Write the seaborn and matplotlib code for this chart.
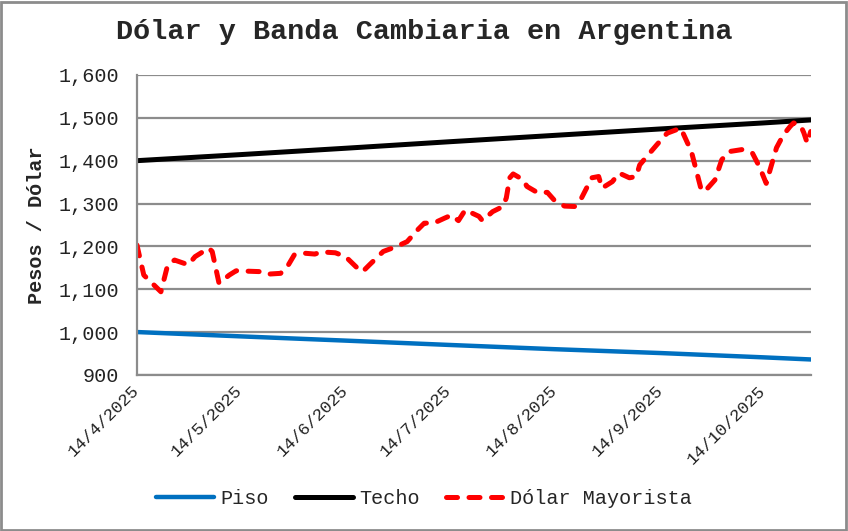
import pandas as pd
import matplotlib.pyplot as plt
import seaborn as sns
from matplotlib.patches import Rectangle
from matplotlib.ticker import FuncFormatter

# Banda cambiaria (piso / techo)
banda_fechas = ["2025-04-14", "2025-05-14", "2025-06-14", "2025-07-14",
                "2025-08-14", "2025-09-14", "2025-10-14", "2025-10-28"]
techo = [1400, 1414, 1429, 1444, 1459, 1474, 1488, 1495]
piso = [1000, 990, 980, 970, 960, 951, 941, 936]

# Dolar mayorista
dolar_fechas = [
    "2025-04-14", "2025-04-16", "2025-04-21", "2025-04-23", "2025-04-25", "2025-04-29",
    "2025-05-01", "2025-05-05", "2025-05-06", "2025-05-08", "2025-05-11", "2025-05-13",
    "2025-05-20", "2025-05-22", "2025-05-26", "2025-05-28", "2025-05-30", "2025-06-02",
    "2025-06-05", "2025-06-07", "2025-06-11", "2025-06-14", "2025-06-18", "2025-06-19",
    "2025-06-21", "2025-06-25", "2025-06-29", "2025-07-02", "2025-07-05", "2025-07-07",
    "2025-07-10", "2025-07-13", "2025-07-15", "2025-07-17", "2025-07-19", "2025-07-23",
    "2025-07-24", "2025-07-27", "2025-07-30", "2025-07-31", "2025-08-01", "2025-08-02",
    "2025-08-05", "2025-08-06", "2025-08-09", "2025-08-12", "2025-08-14", "2025-08-17",
    "2025-08-20", "2025-08-22", "2025-08-25", "2025-08-27", "2025-08-28", "2025-08-31",
    "2025-09-02", "2025-09-05", "2025-09-07", "2025-09-08", "2025-09-10", "2025-09-13",
    "2025-09-16", "2025-09-18", "2025-09-20", "2025-09-22", "2025-09-23", "2025-09-25",
    "2025-09-26", "2025-09-27", "2025-09-30", "2025-10-02", "2025-10-04", "2025-10-08",
    "2025-10-11", "2025-10-13", "2025-10-15", "2025-10-16", "2025-10-18", "2025-10-20",
    "2025-10-22", "2025-10-23", "2025-10-25", "2025-10-26", "2025-10-27", "2025-10-28",
]
dolar = [
    1203, 1133, 1094, 1157, 1168, 1157,
    1176, 1196, 1188, 1114, 1133, 1143,
    1141, 1135, 1137, 1153, 1180, 1184,
    1182, 1187, 1185, 1176, 1145, 1141,
    1157, 1188, 1200, 1211, 1238, 1254,
    1255, 1266, 1273, 1260, 1285, 1270,
    1260, 1281, 1293, 1313, 1360, 1369,
    1355, 1340, 1326, 1326, 1308, 1294,
    1293, 1313, 1360, 1363, 1336, 1351,
    1371, 1360, 1363, 1390, 1409, 1437,
    1464, 1470, 1476, 1441, 1425, 1363,
    1332, 1328, 1355, 1402, 1421, 1426,
    1417, 1386, 1347, 1375, 1430, 1460,
    1480, 1488, 1483, 1465, 1441, 1468,
]

tick_fechas = ["2025-04-14", "2025-05-14", "2025-06-14", "2025-07-14",
               "2025-08-14", "2025-09-14", "2025-10-14"]
tick_labels = ["14/4/2025", "14/5/2025", "14/6/2025", "14/7/2025",
               "14/8/2025", "14/9/2025", "14/10/2025"]

sns.set_style("white")
plt.rcParams["font.family"] = ["Liberation Mono", "DejaVu Sans Mono"]

fig = plt.figure(figsize=(8.48, 5.31), dpi=100)
ax = fig.add_axes([0.1615, 0.294, 0.7945, 0.5648])

bf = pd.to_datetime(banda_fechas)
df = pd.to_datetime(dolar_fechas)

sns.lineplot(x=bf, y=piso, ax=ax, color="#0070C0", lw=3.2, label="Piso",
             solid_capstyle="round")
sns.lineplot(x=bf, y=techo, ax=ax, color="black", lw=3.6, label="Techo",
             solid_capstyle="round")
sns.lineplot(x=df, y=dolar, ax=ax, color="#FF0000", lw=3.6,
             label="Dólar Mayorista", dash_capstyle="round")
ax.lines[-1].set_dashes((2.2, 2.3))

ax.set_ylim(900, 1600)
ax.set_yticks(range(900, 1601, 100))
ax.yaxis.set_major_formatter(FuncFormatter(lambda v, p: f"{int(v):,}"))
ax.set_xlim(pd.Timestamp("2025-04-14"), pd.Timestamp("2025-10-28"))
ax.set_xticks(pd.to_datetime(tick_fechas))
ax.set_xticklabels(tick_labels, rotation=45, ha="right", va="center",
                   rotation_mode="anchor")

ax.grid(axis="y", color="#8c8c8c", lw=1.6)
ax.grid(axis="x", visible=False)
ax.set_axisbelow(True)
for s in ["top", "right"]:
    ax.spines[s].set_visible(False)
for s in ["left", "bottom"]:
    ax.spines[s].set_color("#8c8c8c")
    ax.spines[s].set_linewidth(1.6)
ax.tick_params(axis="both", colors="#8c8c8c", width=1.6, length=3.6,
               labelcolor="#222222", direction="out")
ax.tick_params(axis="x", pad=6, labelsize=12.5)
ax.tick_params(axis="y", pad=9, labelsize=14.5)

ax.set_xlabel("")
ax.set_ylabel("Pesos / Dólar", fontsize=14.5, fontweight="bold", labelpad=9)
fig.suptitle("Dólar y Banda Cambiaria en Argentina", fontsize=20.5,
             fontweight="bold", y=0.94, va="center")

ax.legend(loc="center", bbox_to_anchor=(0.5, 0.062), bbox_transform=fig.transFigure,
          ncol=3, frameon=False, fontsize=14.5, handlelength=2.9,
          handletextpad=0.3, columnspacing=1.3)

fig.patches.append(Rectangle((0.001, 0.002), 0.997, 0.995, transform=fig.transFigure,
                             fill=False, edgecolor="#8c8c8c", lw=2))

fig.savefig("out.png", dpi=100)
